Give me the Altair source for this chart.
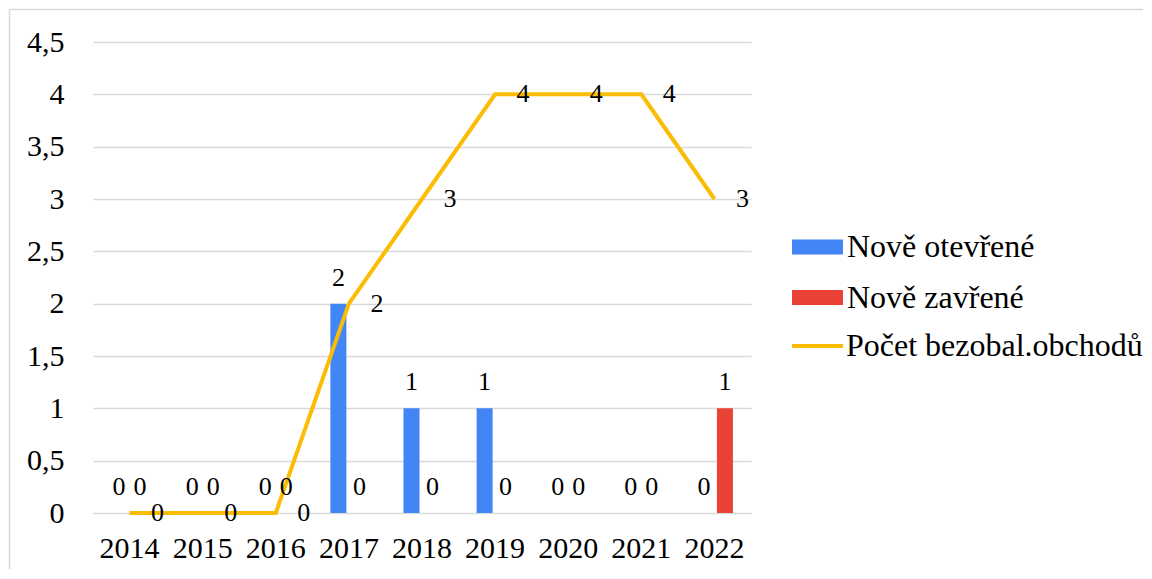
import altair as alt
import pandas as pd

years = ["2014", "2015", "2016", "2017", "2018", "2019", "2020", "2021", "2022"]
opened = [0, 0, 0, 2, 1, 1, 0, 0, 0]
closed = [0, 0, 0, 0, 0, 0, 0, 0, 1]
total = [0, 0, 0, 2, 3, 4, 4, 4, 3]

bar_series = ["Nově otevřené", "Nově zavřené"]
line_series = ["Počet bezobal.obchodů"]
bar_colors = ["#4285F4", "#EA4335"]
line_color = "#FBBC04"
y_ticks = [0, 0.5, 1, 1.5, 2, 2.5, 3, 3.5, 4, 4.5]

FONT = "Liberation Serif"

bars_df = pd.DataFrame({
    "year": years * 2,
    "series": [bar_series[0]] * len(years) + [bar_series[1]] * len(years),
    "value": opened + closed,
})
line_df = pd.DataFrame({
    "year": years,
    "series": line_series * len(years),
    "value": total,
})
frame_df = pd.DataFrame({"k": [0]})

x_scale = alt.Scale(domain=years, paddingInner=0, paddingOuter=0)
y_scale = alt.Scale(domain=[0, 4.5], nice=False)
off_scale = alt.Scale(domain=bar_series, paddingInner=0.238, paddingOuter=0.86)

x_axis = alt.Axis(title=None, domain=False, ticks=False, grid=False,
                  labelFont=FONT, labelFontSize=30, labelColor="#000000",
                  labelPadding=20, labelAngle=0)
y_axis = alt.Axis(title=None, domain=False, ticks=False, grid=True,
                  gridColor="#d9d9d9", gridWidth=1.5, values=y_ticks,
                  format=".1~f", labelExpr="replace(datum.label, '.', ',')",
                  labelFont=FONT, labelFontSize=30, labelColor="#000000",
                  labelPadding=29)

bar_legend = alt.Legend(title=None, orient="none", legendX=699, legendY=179.5,
                        symbolType="M-1,-0.29L1,-0.29L1,0.29L-1,0.29Z",
                        symbolSize=2601, symbolStrokeWidth=0,
                        labelFont=FONT, labelFontSize=32, labelColor="#000000",
                        labelLimit=400, labelOffset=4, rowPadding=8.5, padding=0)
line_legend = alt.Legend(title=None, orient="none", legendX=697, legendY=276.5,
                         symbolType="stroke", symbolSize=2601,
                         symbolStrokeWidth=4,
                         labelFont=FONT, labelFontSize=32, labelColor="#000000",
                         labelLimit=400, labelOffset=1, rowPadding=0, padding=0)

base_bars = alt.Chart(bars_df).encode(
    x=alt.X("year:N", scale=x_scale, axis=x_axis, sort=years),
    xOffset=alt.XOffset("series:N", scale=off_scale, sort=bar_series),
    y=alt.Y("value:Q", scale=y_scale, axis=y_axis),
)

bars = base_bars.mark_bar().encode(
    color=alt.Color("series:N", scale=alt.Scale(domain=bar_series, range=bar_colors),
                    legend=bar_legend)
)
bar_labels = base_bars.mark_text(
    dy=-18, baseline="alphabetic", align="center",
    font=FONT, fontSize=26, color="#000000"
).encode(text=alt.Text("value:Q"))

base_line = alt.Chart(line_df).encode(
    x=alt.X("year:N", sort=years),
    y=alt.Y("value:Q"),
)
line = base_line.mark_line(strokeWidth=4, strokeJoin="miter").encode(
    stroke=alt.Stroke("series:N", scale=alt.Scale(domain=line_series, range=[line_color]),
                      legend=line_legend)
)
line_labels = base_line.mark_text(
    dx=28, baseline="middle", align="center",
    font=FONT, fontSize=26, color="#000000"
).encode(text=alt.Text("value:Q"))

frame_left = alt.Chart(frame_df).mark_rule(color="#d9d9d9", strokeWidth=1.5).encode(
    x=alt.value(-83.5), y=alt.value(-32.5), y2=alt.value(527)
)
frame_top = alt.Chart(frame_df).mark_rule(color="#d9d9d9", strokeWidth=1.5).encode(
    x=alt.value(-83.5), x2=alt.value(1050), y=alt.value(-32.5)
)

chart = alt.layer(
    frame_left, frame_top, bars, line, bar_labels, line_labels
).properties(
    width=658, height=471, padding=0
).configure_view(stroke=None)

chart.save("out.html", embed_options={"renderer": "svg", "actions": False})
